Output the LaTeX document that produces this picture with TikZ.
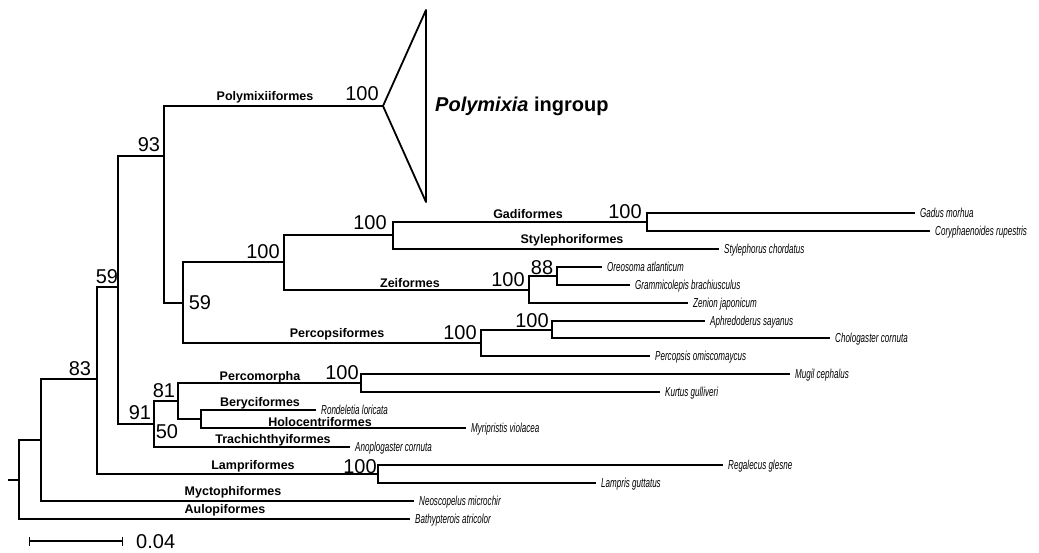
\documentclass[tikz,border=0pt]{standalone}
\usepackage{fontspec}
\setmainfont{Liberation Sans}
\newfontfamily\spfont[FakeStretch=0.62]{Liberation Sans}
\usetikzlibrary{arrows.meta}

\tikzset{
  branch/.style={line width=1.8pt},
  tip/.style={anchor=west,inner xsep=5pt,inner ysep=0pt,text height=9pt,text depth=0pt,
    font={\fontsize{13}{14}\selectfont\spfont\itshape}},
  clade/.style={inner sep=0pt,font={\fontsize{12.5}{14}\selectfont\bfseries}},
  supp/.style={inner sep=0pt,font={\fontsize{20}{22}\selectfont}}
}

\begin{document}
\begin{tikzpicture}[x=1pt,y=-1pt]
  \useasboundingbox (0,0) rectangle (1039,552);

  % internal nodes
  \coordinate (stub) at (8,480);
  \coordinate (root) at (19,480);
  \coordinate (n1) at (41,440);
  \coordinate (n83) at (97,379);
  \coordinate (n59) at (118,287);
  \coordinate (n93) at (164,156);
  \coordinate (nP) at (383,106);
  \coordinate (tritop) at (426,10);
  \coordinate (tribot) at (426,202);
  \coordinate (n59b) at (183,303);
  \coordinate (n284) at (284,262);
  \coordinate (n393) at (393,235);
  \coordinate (n647) at (647,222);
  \coordinate (n529) at (529,290);
  \coordinate (n557) at (557,276);
  \coordinate (n481) at (481,343);
  \coordinate (n552) at (552,330);
  \coordinate (n91) at (154,424);
  \coordinate (n81) at (178,401);
  \coordinate (n361) at (361,383);
  \coordinate (n50) at (201,419);
  \coordinate (n378) at (378,474);

  % tips
  \node[tip] (gadus) at (915,213) {Gadus morhua};
  \node[tip] (cory) at (930,231) {Coryphaenoides rupestris};
  \node[tip] (stylephorus) at (719,249) {Stylephorus chordatus};
  \node[tip] (oreosoma) at (602,267) {Oreosoma atlanticum};
  \node[tip] (grammicolepis) at (630,285) {Grammicolepis brachiusculus};
  \node[tip] (zenion) at (688,303) {Zenion japonicum};
  \node[tip] (aphredoderus) at (705,321) {Aphredoderus sayanus};
  \node[tip] (chologaster) at (830,338) {Chologaster cornuta};
  \node[tip] (percopsis) at (650,356) {Percopsis omiscomaycus};
  \node[tip] (mugil) at (790,374) {Mugil cephalus};
  \node[tip] (kurtus) at (660,392) {Kurtus gulliveri};
  \node[tip] (rondeletia) at (316,410) {Rondeletia loricata};
  \node[tip] (myripristis) at (466,428) {Myripristis violacea};
  \node[tip] (anoplogaster) at (350,447) {Anoplogaster cornuta};
  \node[tip] (regalecus) at (723,465) {Regalecus glesne};
  \node[tip] (lampris) at (596,483) {Lampris guttatus};
  \node[tip] (neoscopelus) at (414,501) {Neoscopelus microchir};
  \node[tip] (bathypterois) at (410,519) {Bathypterois atricolor};

  % branches
  \draw[branch] (stub) -- (root);
  \draw[branch] (root) |- (n1);
  \draw[branch] (root) |- (bathypterois.west);
  \draw[branch] (n1) |- (n83);
  \draw[branch] (n1) |- (neoscopelus.west);
  \draw[branch] (n83) |- (n59);
  \draw[branch] (n83) |- (n378);
  \draw[branch] (n378) |- (regalecus.west);
  \draw[branch] (n378) |- (lampris.west);
  \draw[branch] (n59) |- (n93);
  \draw[branch] (n59) |- (n91);
  \draw[branch] (n93) |- (nP);
  \draw[branch] (n93) |- (n59b);
  \draw[branch,line join=round] (nP) -- (tritop) -- (tribot) -- cycle;
  \draw[branch] (n59b) |- (n284);
  \draw[branch] (n59b) |- (n481);
  \draw[branch] (n284) |- (n393);
  \draw[branch] (n284) |- (n529);
  \draw[branch] (n393) |- (n647);
  \draw[branch] (n393) |- (stylephorus.west);
  \draw[branch] (n647) |- (gadus.west);
  \draw[branch] (n647) |- (cory.west);
  \draw[branch] (n529) |- (n557);
  \draw[branch] (n529) |- (zenion.west);
  \draw[branch] (n557) |- (oreosoma.west);
  \draw[branch] (n557) |- (grammicolepis.west);
  \draw[branch] (n481) |- (n552);
  \draw[branch] (n481) |- (percopsis.west);
  \draw[branch] (n552) |- (aphredoderus.west);
  \draw[branch] (n552) |- (chologaster.west);
  \draw[branch] (n91) |- (n81);
  \draw[branch] (n91) |- (anoplogaster.west);
  \draw[branch] (n81) |- (n361);
  \draw[branch] (n81) |- (n50);
  \draw[branch] (n361) |- (mugil.west);
  \draw[branch] (n361) |- (kurtus.west);
  \draw[branch] (n50) |- (rondeletia.west);
  \draw[branch] (n50) |- (myripristis.west);

  % clade names
  \node[clade] (polymixii) at (265,97) {Polymixiiformes};
  \node[clade] (gadi) at (528,214) {Gadiformes};
  \node[clade] (stylephori) at (572,240) {Stylephoriformes};
  \node[clade] (zei) at (410,283) {Zeiformes};
  \node[clade] (percopsi) at (337,334) {Percopsiformes};
  \node[clade] (percomorpha) at (260,377) {Percomorpha};
  \node[clade] (beryci) at (260,403) {Beryciformes};
  \node[clade] (holocentri) at (320,422) {Holocentriformes};
  \node[clade] (trachichthyi) at (273,440) {Trachichthyiformes};
  \node[clade] (lampri) at (253,466) {Lampriformes};
  \node[clade] (myctophi) at (233,492) {Myctophiformes};
  \node[clade] (aulopi) at (225,510) {Aulopiformes};
  \node[anchor=west,inner sep=0pt,font={\fontsize{20}{24}\selectfont\bfseries}] (ingroup)
    at (435,106) {\textit{Polymixia} ingroup};

  % support values
  \node[supp] (sP) at (362,94) {100};
  \node[supp] (s93) at (149,145) {93};
  \node[supp] (s59) at (107,277) {59};
  \node[supp] (s83) at (80,369) {83};
  \node[supp] (s284) at (263,252) {100};
  \node[supp] (s393) at (370,223) {100};
  \node[supp] (s647) at (625,212) {100};
  \node[supp] (s529) at (508,280) {100};
  \node[supp] (s557) at (542,268) {88};
  \node[supp] (s59b) at (200,303) {59};
  \node[supp] (s481) at (460,333) {100};
  \node[supp] (s552) at (532,321) {100};
  \node[supp] (s91) at (140,413) {91};
  \node[supp] (s81) at (164,391) {81};
  \node[supp] (s50) at (167,432) {50};
  \node[supp] (s361) at (342,373) {100};
  \node[supp] (s378) at (360,467) {100};

  % scale bar
  \coordinate (sbl) at (29,541);
  \coordinate (sbr) at (123,541);
  \draw[line width=1.4pt,{Bar[width=9pt]}-{Bar[width=9pt]}] (sbl) -- (sbr);
  \node[supp,anchor=west] (sblabel) at (136,542) {0.04};
\end{tikzpicture}
\end{document}
